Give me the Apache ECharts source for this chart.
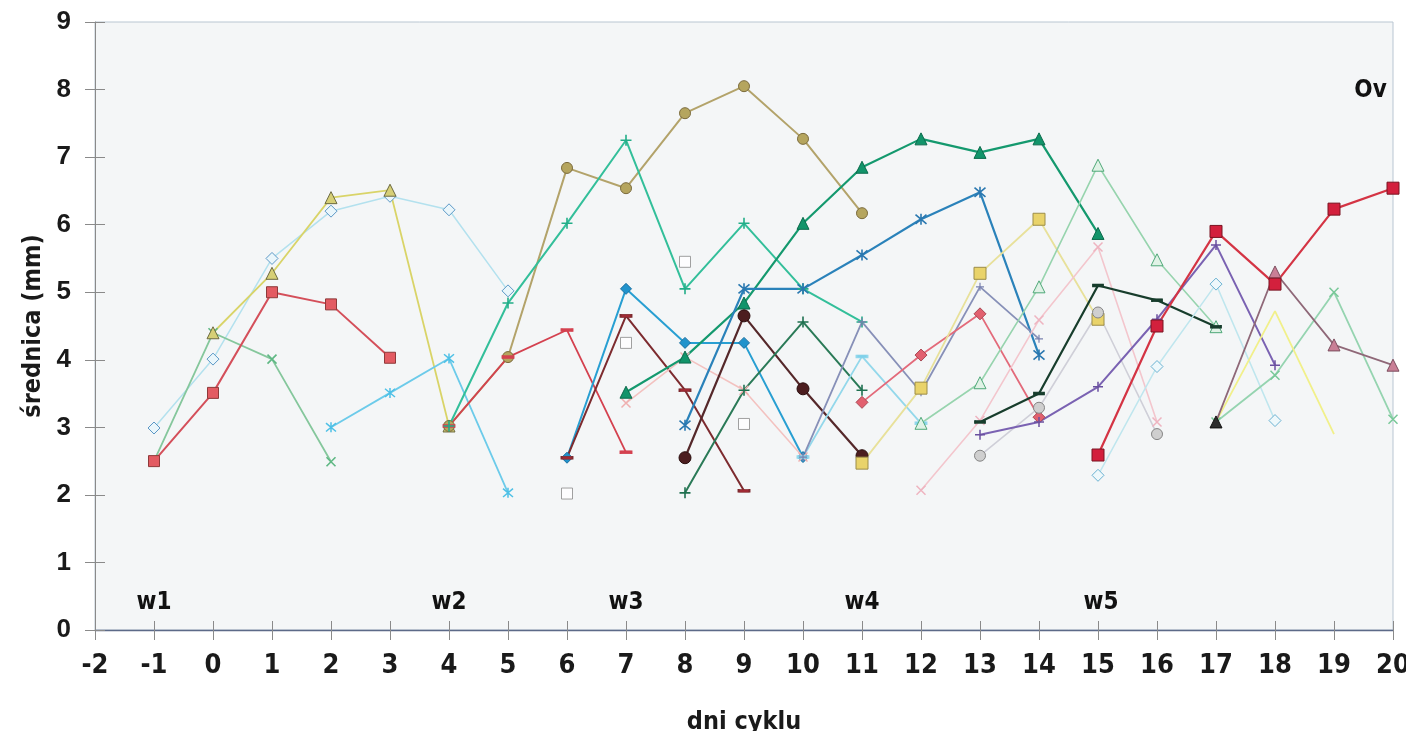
<!DOCTYPE html>
<html><head><meta charset="utf-8">
<script src="https://cdn.jsdelivr.net/npm/echarts@6/dist/echarts.min.js"></script>
<style>html,body{margin:0;padding:0;background:#fff}#c{width:1406px;height:731px}</style>
</head><body><div id="c"></div>
<script>
// ---- axis ----
const xMin = -2, xMax = 20, yMin = 0, yMax = 9;
const xTitle = 'dni cyklu';
const yTitle = 'średnica (mm)';
// ---- annotations ----
const annotLabels = ['w1', 'w2', 'w3', 'w4', 'w5', 'Ov'];
const annotX = [-1, 4, 7, 11, 15.05, 19.62];
const annotY = [0.4, 0.4, 0.4, 0.4, 0.4, 7.98];
// ---- series data: [day, diameter] ----
const redSqA = [[-1,2.5],[0,3.51],[1,5.0],[2,4.82],[3,4.03]];
const yellowTri = [[0,4.4],[1,5.28],[2,6.4],[3,6.51],[4,3.02]];
const lightBlueDiaA = [[-1,2.99],[0,4.01],[1,5.5],[2,6.2],[3,6.42],[4,6.22],[5,5.02]];
const greenXA = [[-1,2.5],[0,4.4],[1,4.01],[2,2.49]];
const cyanStar = [[2,3.0],[3,3.51],[4,4.02],[5,2.03]];
const oliveCirc = [[4,3.02],[5,4.04],[6,6.84],[7,6.54],[8,7.65],[9,8.05],[10,7.27],[11,6.17]];
const redDash = [[4,3.02],[5,4.04],[6,4.44],[7,2.63]];
const tealPlus = [[4,3.02],[5,4.84],[6,6.02],[7,7.25],[8,5.05],[9,6.02],[10,5.05],[11,4.56]];
const blueDia = [[6,2.55],[7,5.05],[8,4.25],[9,4.25],[10,2.56]];
const maroonDash = [[6,2.55],[7,4.65],[8,3.55],[9,2.06]];
const greenTri = [[7,3.52],[8,4.04],[9,4.84],[10,6.02],[11,6.85],[12,7.27],[13,7.07],[14,7.27],[15,5.87]];
const pinkXA = [[7,3.36],[8,4.04],[9,3.55],[10,2.56]];
const steelStar = [[8,3.03],[9,5.05],[10,5.05],[11,5.55],[12,6.08],[13,6.48],[14,4.07]];
const brownCirc = [[8,2.55],[9,4.65],[10,3.57],[11,2.58]];
const dkGreenPlus = [[8,2.03],[9,3.55],[10,4.56],[11,3.55]];
const hollowSq = [[6,2.02],[7,4.25],[8,5.45],[9,3.05]];
const cyanDash = [[10,2.56],[11,4.05],[12,3.06]];
const slateLine = [[10,2.56],[11,4.56],[12,3.52],[13,5.08],[14,4.31]];
const salmonDia = [[11,3.37],[12,4.07],[13,4.68],[14,3.15]];
const yellowSq = [[11,2.47],[12,3.58],[13,5.28],[14,6.08],[15,4.6]];
const lgTri = [[12,3.06],[13,3.66],[14,5.08],[15,6.88],[16,5.48],[17,4.49]];
const pinkXB = [[12,2.07],[13,3.1],[14,4.59],[15,5.67],[16,3.08]];
const greyCirc = [[13,2.58],[14,3.29],[15,4.7],[16,2.9]];
const violetPlus = [[13,2.89],[14,3.08],[15,3.6],[16,4.6],[17,5.7],[18,3.92]];
const blackGreenDash = [[13,3.08],[14,3.5],[15,5.1],[16,4.88],[17,4.49]];
const crimsonSq = [[15,2.59],[16,4.5],[17,5.9],[18,5.12],[19,6.23],[20,6.54]];
const lightBlueDiaB = [[15,2.29],[16,3.9],[17,5.12],[18,3.1]];
const mauveTri = [[17,3.08],[18,5.3],[19,4.22],[20,3.92]];
const greenXB = [[17,3.08],[18,3.77],[19,5.0],[20,3.12]];
const paleYellow = [[17,3.08],[18,4.72],[19,2.9]];

const X = 'path://M0,0L10,10M10,0L0,10';
const PLUS = 'path://M5,0L5,10M0,5L10,5';
const STAR = 'path://M0,0L10,10M10,0L0,10M5,-1L5,11';

function mk(name, data, o) {
  return {
    name, type: 'line', data, z: o.z || 2,
    symbol: o.symbol || 'none', symbolSize: o.size || 10,
    showSymbol: !!o.symbol, animation: false,
    lineStyle: { color: o.line, width: o.width || 1.8 },
    itemStyle: { color: o.fill || o.line, borderColor: o.border || o.line, borderWidth: o.bw == null ? 1 : o.bw },
    emphasis: { disabled: true }
  };
}

const series = [
  mk('a', lightBlueDiaA, {symbol:'diamond', size:12, line:'#b3e1ee', fill:'#eaf6fb', border:'#5b98c6', width:1.5}),
  mk('b', greenXA, {symbol:X, size:9, line:'#85c79c', border:'#5fb884', bw:1.6, width:1.8}),
  mk('c', yellowTri, {symbol:'triangle', size:12, line:'#d9d468', fill:'#d6cf76', border:'#6c6a40', width:1.8}),
  mk('d', redSqA, {symbol:'rect', size:11, line:'#d44f5a', fill:'#e35b62', border:'#8e3a3a', width:2}),
  mk('e', cyanStar, {symbol:STAR, size:10, line:'#6ccbea', border:'#4ec0e6', bw:1.5, width:1.8}),
  mk('f', oliveCirc, {symbol:'circle', size:11, line:'#b3a36a', fill:'#b5a55e', border:'#7b6b3c', width:2}),
  mk('g', redDash, {symbol:'rect', size:[11,3], line:'#d4414f', fill:'#d4414f', width:1.8}),
  mk('h', tealPlus, {symbol:PLUS, size:11, line:'#33bf9a', border:'#22ad88', bw:1.6, width:2}),
  mk('i', blueDia, {symbol:'diamond', size:11, line:'#289fd2', fill:'#2193cc', border:'#1a6fa0', width:2}),
  mk('j', maroonDash, {symbol:'rect', size:[11,3], line:'#7d2b2f', fill:'#a02a34', width:2}),
  mk('k', pinkXA, {symbol:X, size:9, line:'#f3c2c0', border:'#efb0b0', bw:1.5, width:1.6}),
  mk('l', greenTri, {symbol:'triangle', size:12, line:'#14996e', fill:'#12946a', border:'#0c6b4c', width:2.2}),
  mk('m', steelStar, {symbol:STAR, size:11, line:'#2a82ba', border:'#2a78b0', bw:1.6, width:2.2}),
  mk('n', brownCirc, {symbol:'circle', size:12, line:'#55282a', fill:'#4c1d1f', border:'#2a0e0e', width:2.2}),
  mk('o', dkGreenPlus, {symbol:PLUS, size:11, line:'#2a7a57', border:'#1f7050', bw:1.6, width:2}),
  mk('p', cyanDash, {symbol:'rect', size:[11,3], line:'#93d8eb', fill:'#7fd1ea', width:1.8}),
  mk('q', slateLine, {symbol:PLUS, size:8, line:'#8790b8', border:'#7a82b0', bw:1.2, width:1.8}),
  mk('r', salmonDia, {symbol:'diamond', size:12, line:'#e36a7a', fill:'#e2606f', border:'#a84a55', width:1.8}),
  mk('s', yellowSq, {symbol:'rect', size:12, line:'#e8e19a', fill:'#e9d36a', border:'#9c8d48', width:1.8}),
  mk('t', lgTri, {symbol:'triangle', size:12, line:'#97d4ae', fill:'#e0f2e6', border:'#4ea878', width:1.6}),
  mk('u', pinkXB, {symbol:X, size:9, line:'#f3c6cd', border:'#eeb4c0', bw:1.5, width:1.6}),
  mk('v', greyCirc, {symbol:'circle', size:11, line:'#cfcfd8', fill:'#cfcfcf', border:'#858585', width:1.6}),
  mk('w', violetPlus, {symbol:PLUS, size:10, line:'#7a62b2', border:'#6a50a0', bw:1.5, width:2}),
  mk('x', blackGreenDash, {symbol:'rect', size:[10,3], line:'#173d2c', fill:'#173d2c', width:2.2}),
  mk('y', lightBlueDiaB, {symbol:'diamond', size:12, line:'#bfe6ee', fill:'#eef8fb', border:'#6ab2d2', width:1.5}),
  mk('z', greenXB, {symbol:X, size:9, line:'#95d4b0', border:'#78c898', bw:1.5, width:1.8}),
  mk('aa', paleYellow, {line:'#f1f08a', width:1.8}),
  mk('ab', mauveTri, {symbol:'triangle', size:12, line:'#8f6878', fill:'#c97f96', border:'#7c4d5e', width:1.8}),
  mk('ac', crimsonSq, {symbol:'rect', size:12, line:'#d43444', fill:'#d3203d', border:'#7a1422', width:2.2}),
  {
    name: 'hollow', type: 'scatter', data: hollowSq, symbol: 'rect', symbolSize: 11, animation: false,
    itemStyle: { color: '#ffffff', borderColor: '#8a8a8a', borderWidth: 1 }
  },
  {
    name: 'annot', type: 'scatter', animation: false, symbolSize: 1, silent: true, z: 5,
    itemStyle: { color: 'rgba(0,0,0,0)' },
    data: annotX.map((x, i) => ({ value: [x, annotY[i]], label: { formatter: annotLabels[i], color: '#111111' } })),
    label: { show: true, position: 'inside', color: '#111111', fontWeight: 'bold', fontSize: 24, opacity: 1,
      fontFamily: '"Liberation Sans Narrow","DejaVu Sans Condensed",sans-serif' }
  }
];
// dark starting marker of mauve series
series[27].data = mauveTri.map((p, i) => i === 0 ? { value: p, itemStyle: { color: '#2e2e2e', borderColor: '#111' } } : p);

const narrow = '"Liberation Sans Narrow","DejaVu Sans Condensed",sans-serif';
const chart = echarts.init(document.getElementById('c'), null, { renderer: 'canvas' });
chart.setOption({
  backgroundColor: '#ffffff',
  animation: false,
  grid: { left: 95, right: 13, top: 22, bottom: 101, outerBoundsMode: 'none', containLabel: false,
    show: true, backgroundColor: '#f4f6f7', borderColor: '#b9c6d2', borderWidth: 1 },
  xAxis: [{
    type: 'value', min: xMin, max: xMax, interval: 1,
    name: xTitle, nameLocation: 'middle', nameGap: 80,
    nameTextStyle: { fontFamily: narrow, fontWeight: 'bold', fontSize: 25, color: '#1a1a1a' },
    axisLine: { show: true, onZero: false, lineStyle: { color: '#5c6a88', width: 1.3 } },
    axisTick: { show: true, length: 10, lineStyle: { color: '#8a8a8a' } },
    axisLabel: { margin: 22, fontFamily: narrow, fontWeight: 'bold', fontSize: 27, color: '#1a1a1a' },
    splitLine: { show: false }
  }, {
    type: 'value', min: xMin, max: xMax, interval: 1, position: 'bottom',
    axisLine: { show: false, onZero: false }, axisLabel: { show: false }, splitLine: { show: false },
    axisTick: { show: true, inside: true, length: 9, lineStyle: { color: '#8a8a8a' } }
  }],
  yAxis: [{
    type: 'value', min: yMin, max: yMax, interval: 1,
    name: yTitle, nameLocation: 'middle', nameGap: 48, nameRotate: 90,
    nameTextStyle: { fontFamily: narrow, fontWeight: 'bold', fontSize: 25, color: '#1a1a1a' },
    axisLine: { show: true, onZero: false, lineStyle: { color: '#8a8a8a', width: 1 } },
    axisTick: { show: true, length: 10, lineStyle: { color: '#8a8a8a' } },
    axisLabel: { margin: 24, fontFamily: '"Liberation Sans",Arial,sans-serif', fontWeight: 'bold', fontSize: 26, color: '#1a1a1a' },
    splitLine: { show: false }
  }, {
    type: 'value', min: yMin, max: yMax, interval: 1, position: 'left',
    axisLine: { show: false, onZero: false }, axisLabel: { show: false }, splitLine: { show: false },
    axisTick: { show: true, inside: true, length: 10, lineStyle: { color: '#8a8a8a' } }
  }],
  series
});
</script>
</body></html>
